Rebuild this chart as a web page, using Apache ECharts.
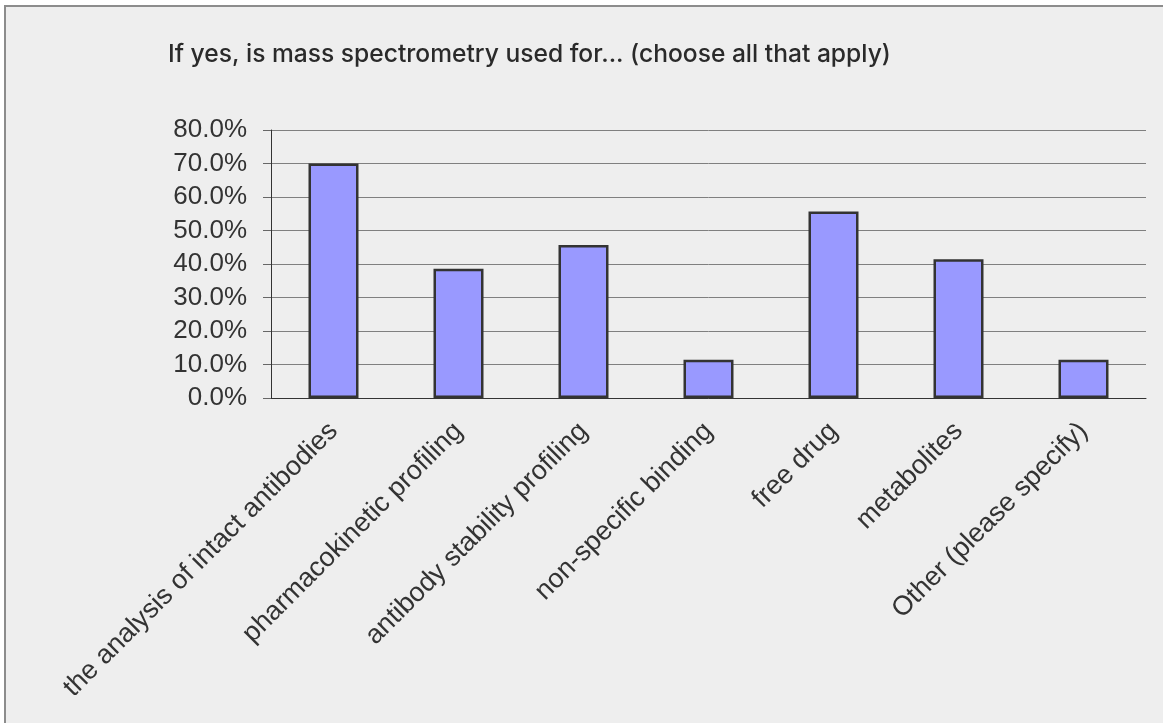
<!DOCTYPE html>
<html>
<head>
<meta charset="utf-8">
<script src="https://cdn.jsdelivr.net/npm/echarts@6/dist/echarts.min.js"></script>
<style>
  html, body { margin: 0; padding: 0; background: #ffffff; }
  #wrap { position: absolute; left: 4px; top: 5px; border-top: 2px solid #8c8c8c; border-left: 2px solid #8c8c8c; }
  #chart { width: 1157px; height: 716px; }
</style>
</head>
<body>
<div id="wrap"><div id="chart"></div></div>
<script>
var categories = ['the analysis of intact antibodies', 'pharmacokinetic profiling', 'antibody stability profiling',
  'non-specific binding', 'free drug', 'metabolites', 'Other (please specify)'];
var percents = [70.0, 38.6, 45.7, 11.4, 55.7, 41.4, 11.4];
var yMax = 80;
var yStep = 10;

var myChart = echarts.init(document.getElementById('chart'));
var option = {
    backgroundColor: '#eeeeee',
    animation: false,
    title: {
        text: 'If yes, is mass spectrometry used for... (choose all that apply)',
        left: 157,
        top: 30,
        textStyle: {
            fontFamily: 'Inter',
            fontSize: 24.6,
            fontWeight: 500,
            color: '#2a2a2a'
        }
    },
    grid: {
        left: 265,
        right: 17,
        top: 123,
        bottom: 325
    },
    xAxis: {
        type: 'category',
        data: categories,
        axisLine: { lineStyle: { color: '#333', width: 1 } },
        axisTick: { length: 8, lineStyle: { color: '#666' } },
        axisLabel: {
            rotate: 45,
            interval: 0,
            margin: 29,
            fontFamily: 'Liberation Sans',
            fontSize: 27,
            color: '#333'
        }
    },
    yAxis: {
        type: 'value',
        min: 0,
        max: yMax,
        interval: yStep,
        axisLine: { show: true, lineStyle: { color: '#333', width: 1 } },
        axisTick: { show: true, length: 8, lineStyle: { color: '#666' } },
        axisLabel: {
            margin: 24,
            fontFamily: 'Liberation Sans',
            fontSize: 26,
            color: '#333',
            formatter: function (v) { return v.toFixed(1) + '%'; }
        },
        splitLine: { lineStyle: { color: '#7f7f7f', width: 1 } }
    },
    series: [{
        type: 'bar',
        data: percents,
        barWidth: '40%',
        itemStyle: {
            color: '#9999ff',
            borderColor: '#333333',
            borderWidth: 2.5
        }
    }]
};
myChart.setOption(option);
</script>
</body>
</html>
